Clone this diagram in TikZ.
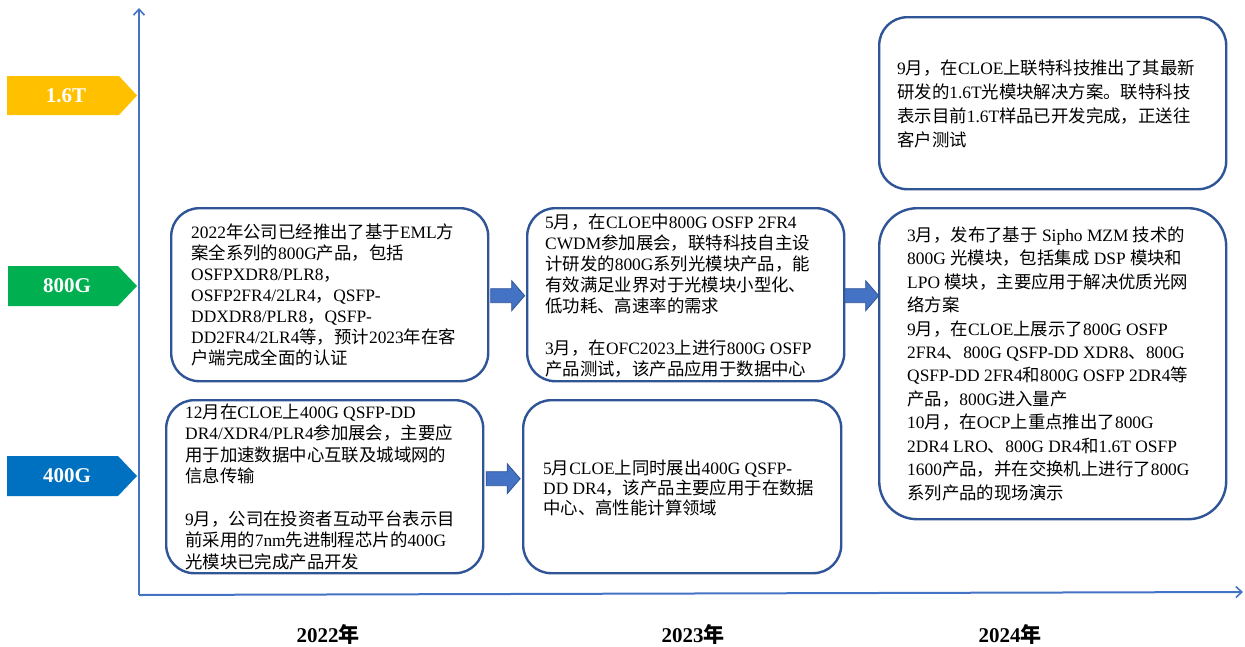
\documentclass[tikz,border=0pt]{standalone}
\usepackage{fontspec}
\setmainfont{Liberation Serif}
\newfontfamily\cjkf{Noto Sans CJK SC}
\usetikzlibrary{calc,arrows.meta}
\XeTeXinterchartokenstate=1
\newXeTeXintercharclass\CJKcls
\newcount\cjkcnt
\cjkcnt="4E00 \loop\XeTeXcharclass\cjkcnt=\CJKcls\advance\cjkcnt by 1\relax\ifnum\cjkcnt<"A000 \repeat
\cjkcnt="3000 \loop\XeTeXcharclass\cjkcnt=\CJKcls\advance\cjkcnt by 1\relax\ifnum\cjkcnt<"3040 \repeat
\cjkcnt="FF00 \loop\XeTeXcharclass\cjkcnt=\CJKcls\advance\cjkcnt by 1\relax\ifnum\cjkcnt<"FFF0 \repeat
\XeTeXinterchartoks 0 \CJKcls = {\cjkf}
\XeTeXinterchartoks 4095 \CJKcls = {\cjkf}
\XeTeXinterchartoks \CJKcls 0 = {\rmfamily}
\XeTeXinterchartoks \CJKcls 4095 = {\rmfamily}
\definecolor{boxblue}{HTML}{2F5597}
\definecolor{axisblue}{HTML}{4472C4}
\definecolor{arrfill}{HTML}{4472C4}
\definecolor{tagyellow}{HTML}{FFC000}
\definecolor{taggreen}{HTML}{00B050}
\definecolor{tagblue}{HTML}{0070C0}
\tikzset{
  box/.style={draw=boxblue, line width=2.4pt, rounded corners=28pt, inner sep=0pt, anchor=north west, fill=white},
  txt/.style={anchor=north west, inner sep=0pt, align=left, text=black},
  tagtext/.style={text=white, font=\fontsize{21}{24}\selectfont\bfseries},
  year/.style={text=black, font=\fontsize{21}{24}\selectfont\bfseries},
  axis/.style={draw=axisblue, line width=2pt},
  barrow/.pic={\draw[fill=arrfill, draw=boxblue, line width=0.8pt] (-17,-7) -- (4,-7) -- (4,-15) -- (17,0) -- (4,15) -- (4,7) -- (-17,7) -- cycle;}
}
\newcommand{\fs}[1]{\fontsize{17.4}{#1}\selectfont}
\newcommand{\fl}{\rule{0pt}{16pt}}
\begin{document}
\begin{tikzpicture}[x=1pt,y=-1pt]
\useasboundingbox (0,0) rectangle (1245,646);
% axes
\coordinate (O) at (139,595);
\coordinate (Ytop) at (139,8);
\coordinate (Xend) at (1243,592);
\draw[axis, -{Straight Barb[length=6pt,width=11pt,line width=1.6pt]}] (O) -- (Ytop);
\draw[axis, -{Straight Barb[length=6pt,width=11pt,line width=1.6pt]}] (O) -- (Xend);
% tags
\fill[tagyellow] (7,76) -- (119,76) -- (137,95.5) -- (119,115) -- (7,115) -- cycle;
\node[tagtext] (t16) at (66,96) {1.6T};
\fill[taggreen] (8,266) -- (118,266) -- (137,286) -- (118,306) -- (8,306) -- cycle;
\node[tagtext] (t800) at (67,286) {800G};
\fill[tagblue] (7,456) -- (118,456) -- (137,476) -- (118,496) -- (7,496) -- cycle;
\node[tagtext] (t400) at (67,476) {400G};
% boxes
\node[box, minimum width=317pt, minimum height=173pt] (A) at (170,207) {};
\node[box, minimum width=317pt, minimum height=173pt] (B) at (165,399) {};
\node[box, minimum width=317pt, minimum height=173pt] (C) at (526,207) {};
\node[box, minimum width=318pt, minimum height=173pt] (D) at (522,399) {};
\node[box, minimum width=347pt, minimum height=172pt] (E) at (878,16) {};
\node[box, rounded corners=38pt, minimum width=347pt, minimum height=311pt] (F) at (878,207) {};
% texts
\node[txt, font=\fs{21}] (At) at (191,222) {\fl 2022年公司已经推出了基于EML方\\案全系列的800G产品，包括\\OSFPXDR8/PLR8，\\OSFP2FR4/2LR4，QSFP-\\DDXDR8/PLR8，QSFP-\\DD2FR4/2LR4等，预计2023年在客\\户端完成全面的认证};
\node[txt, font=\fs{21.4}] (Bt) at (185,402) {\fl 12月在CLOE上400G QSFP-DD\\DR4/XDR4/PLR4参加展会，主要应\\用于加速数据中心互联及城域网的\\信息传输\\[21.4pt]9月，公司在投资者互动平台表示目\\前采用的7nm先进制程芯片的400G\\光模块已完成产品开发};
\node[txt, font=\fs{21.1}] (Ct) at (545,212) {\fl 5月，在CLOE中800G OSFP 2FR4\\CWDM参加展会，联特科技自主设\\计研发的800G系列光模块产品，能\\有效满足业界对于光模块小型化、\\低功耗、高速率的需求\\[21.1pt]3月，在OFC2023上进行800G OSFP\\产品测试，该产品应用于数据中心};
\node[txt, font=\fs{20}] (Dt) at (543,458) {\fl 5月CLOE上同时展出400G QSFP-\\DD DR4，该产品主要应用于在数据\\中心、高性能计算领域};
\node[txt, font=\fs{24}] (Et) at (897,58) {\fl 9月，在CLOE上联特科技推出了其最新\\研发的1.6T光模块解决方案。联特科技\\表示目前1.6T样品已开发完成，正送往\\客户测试};
\node[txt, font=\fs{23.45}] (Ft) at (907,225) {\fl 3月，发布了基于 Sipho MZM 技术的\\800G 光模块，包括集成 DSP 模块和\\LPO 模块，主要应用于解决优质光网\\络方案\\9月，在CLOE上展示了800G OSFP\\2FR4、800G QSFP-DD XDR8、800G\\QSFP-DD 2FR4和800G OSFP 2DR4等\\产品，800G进入量产\\10月，在OCP上重点推出了800G\\2DR4 LRO、800G DR4和1.6T OSFP\\1600产品，并在交换机上进行了800G\\系列产品的现场演示};
% block arrows
\pic at ($(A.east)!0.5!(C.west)+(0,1)$) {barrow};
\pic at ($(B.east)!0.5!(D.west)+(0,-8)$) {barrow};
\pic at ($(C.east)!0.5!(C.east -| F.west)+(0,1)$) {barrow};
% years
\node[year] (y22) at (328,634) {2022年};
\node[year] (y23) at (693,634) {2023年};
\node[year] (y24) at (1010,634) {2024年};
\end{tikzpicture}
\end{document}
